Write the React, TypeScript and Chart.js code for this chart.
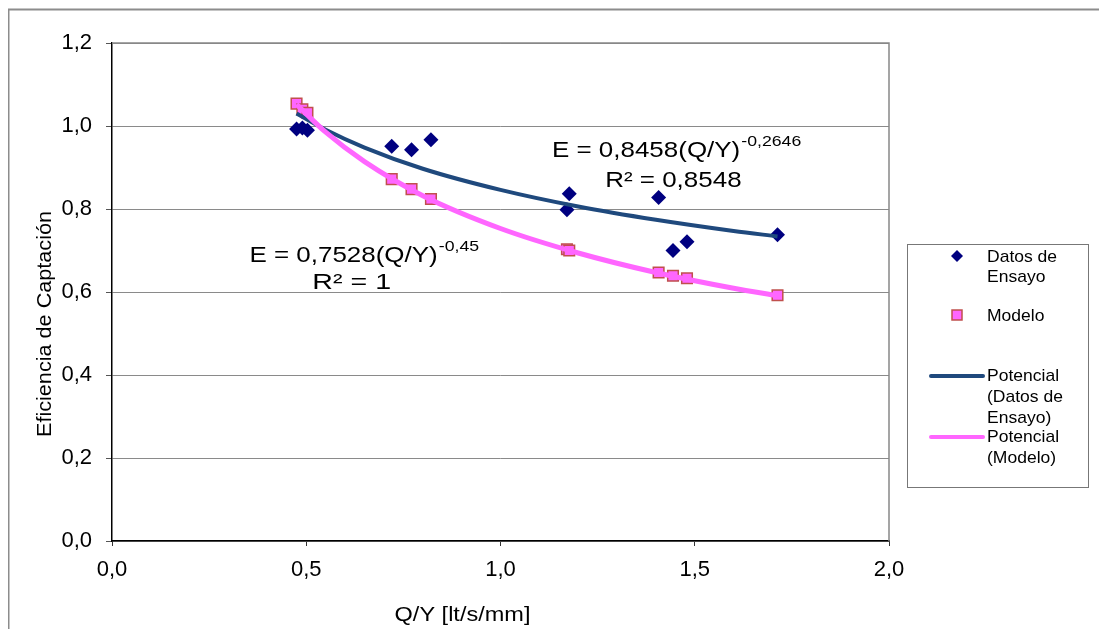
import React, { useEffect, useRef } from 'react';
import { Chart, registerables } from 'chart.js';

Chart.register(...registerables);

// ---- Data ----
const qyValues = [0.475, 0.49, 0.503, 0.72, 0.771, 0.821, 1.171, 1.177, 1.407, 1.444, 1.48, 1.713];
const ensayoValues = [0.993, 0.995, 0.99, 0.951, 0.943, 0.967, 0.798, 0.837, 0.828, 0.7, 0.721, 0.738];
const modeloValues = [1.054, 1.04, 1.032, 0.872, 0.848, 0.824, 0.703, 0.7, 0.647, 0.639, 0.633, 0.592];

const trendX = [0.475, 0.55, 0.65, 0.8, 1.0, 1.2, 1.4, 1.6, 1.713];
const trendEnsayo = [1.03, 0.991, 0.948, 0.897, 0.846, 0.806, 0.774, 0.747, 0.734];
const trendModelo = [1.052, 0.985, 0.914, 0.832, 0.753, 0.694, 0.647, 0.609, 0.591];

const xTicks = { min: 0, max: 2, step: 0.5 };
const yTicks = { min: 0, max: 1.2, step: 0.2 };

const xTitle = 'Q/Y [lt/s/mm]';
const yTitle = 'Eficiencia de Captación';

const eqEnsayo = { main: 'E = 0,8458(Q/Y)', sup: '-0,2646', r2: 'R² = 0,8548', x: 1.452, y: 0.926, r2x: 1.445, r2y: 0.853 };
const eqModelo = { main: 'E = 0,7528(Q/Y)', sup: '-0,45', r2: 'R² = 1', x: 0.648, y: 0.672, r2x: 0.617, r2y: 0.607 };

const legendLabels = {
  ensayo: ['Datos de', 'Ensayo'],
  modelo: ['Modelo'],
  potEnsayo: ['Potencial', '(Datos de', 'Ensayo)'],
  potModelo: ['Potencial', '(Modelo)'],
};

const FONT = '"Liberation Sans", Arial, sans-serif';
const BLUE_DIAMOND = '#000080';
const PINK_FILL = '#FF66FF';
const PINK_BORDER = '#C0504D';
const BLUE_LINE = '#1F497D';
const PINK_LINE = '#FF66FF';

const fmt = (v: number) => Number(v).toFixed(1).replace('.', ',');

const pts = (xs: number[], ys: number[]) => xs.map((x, i) => ({ x, y: ys[i] }));

function txt(ctx: CanvasRenderingContext2D, s: string, x: number, y: number, size: number, align: CanvasTextAlign = 'left', sx = 1, baseline: CanvasTextBaseline = 'alphabetic') {
  ctx.save();
  ctx.font = `${size}px ${FONT}`;
  ctx.fillStyle = '#000';
  ctx.textBaseline = baseline;
  ctx.textAlign = align;
  ctx.translate(x, y);
  ctx.scale(sx, 1);
  ctx.fillText(s, 0, 0);
  ctx.restore();
}

function drawEq(ctx: CanvasRenderingContext2D, cx: number, by: number, main: string, sup: string, sx: number) {
  ctx.save();
  ctx.font = `22px ${FONT}`;
  const w1 = ctx.measureText(main).width * sx;
  ctx.font = `15px ${FONT}`;
  const w2 = ctx.measureText(sup).width * sx;
  ctx.restore();
  const x0 = cx - (w1 + w2) / 2;
  txt(ctx, main, x0, by, 22, 'left', sx);
  txt(ctx, sup, x0 + w1 + 1, by - 11, 15, 'left', sx);
}

const decorPlugin = {
  id: 'decor',
  afterDatasetsDraw(chart: any) {
    const ctx: CanvasRenderingContext2D = chart.ctx;
    const { left, right, top, bottom } = chart.chartArea;
    const xs = chart.scales.x;
    const ys = chart.scales.y;
    ctx.save();
    // outer frame (top and left visible)
    ctx.strokeStyle = '#8c8c8c';
    ctx.lineWidth = 2;
    ctx.beginPath();
    ctx.moveTo(0.5, chart.height);
    ctx.lineTo(0.5, 1.5);
    ctx.lineTo(chart.width, 1.5);
    ctx.stroke();
    // plot area top and right borders
    ctx.strokeStyle = '#888';
    ctx.lineWidth = 1.5;
    ctx.beginPath();
    ctx.moveTo(left, top);
    ctx.lineTo(right, top);
    ctx.lineTo(right, bottom);
    ctx.stroke();
    ctx.restore();

    // equations
    drawEq(ctx, xs.getPixelForValue(eqEnsayo.x), ys.getPixelForValue(eqEnsayo.y), eqEnsayo.main, eqEnsayo.sup, 1.18);
    txt(ctx, eqEnsayo.r2, xs.getPixelForValue(eqEnsayo.r2x), ys.getPixelForValue(eqEnsayo.r2y), 22, 'center', 1.18);
    drawEq(ctx, xs.getPixelForValue(eqModelo.x), ys.getPixelForValue(eqModelo.y), eqModelo.main, eqModelo.sup, 1.18);
    txt(ctx, eqModelo.r2, xs.getPixelForValue(eqModelo.r2x), ys.getPixelForValue(eqModelo.r2y), 22, 'center', 1.3);

    // axis titles
    txt(ctx, xTitle, (left + right) / 2 - 38, 613, 21, 'center', 1.12);
    ctx.save();
    ctx.translate(37, 316);
    ctx.rotate(-Math.PI / 2);
    txt(ctx, yTitle, 0, 0, 21, 'center', 1.03, 'middle');
    ctx.restore();

    // legend
    const lx = 899, ly = 236, lw = 181, lh = 243;
    ctx.save();
    ctx.strokeStyle = '#777';
    ctx.lineWidth = 1;
    ctx.fillStyle = '#fff';
    ctx.fillRect(lx, ly, lw, lh);
    ctx.strokeRect(lx + 0.5, ly + 0.5, lw, lh);
    ctx.restore();
    const tx = 979;
    ctx.save();
    ctx.fillStyle = BLUE_DIAMOND;
    ctx.beginPath();
    ctx.moveTo(949 - 6, 248);
    ctx.lineTo(949, 248 - 6);
    ctx.lineTo(949 + 6, 248);
    ctx.lineTo(949, 248 + 6);
    ctx.closePath();
    ctx.fill();
    ctx.fillStyle = PINK_FILL;
    ctx.strokeStyle = PINK_BORDER;
    ctx.lineWidth = 1.5;
    ctx.fillRect(944, 302, 10, 10);
    ctx.strokeRect(944, 302, 10, 10);
    ctx.lineCap = 'round';
    ctx.lineWidth = 4;
    ctx.strokeStyle = BLUE_LINE;
    ctx.beginPath();
    ctx.moveTo(923, 368);
    ctx.lineTo(975, 368);
    ctx.stroke();
    ctx.strokeStyle = PINK_LINE;
    ctx.beginPath();
    ctx.moveTo(923, 429);
    ctx.lineTo(975, 429);
    ctx.stroke();
    ctx.restore();
    legendLabels.ensayo.forEach((s, i) => txt(ctx, s, tx, 249 + i * 20, 17, 'left', 1.03, 'middle'));
    legendLabels.modelo.forEach((s, i) => txt(ctx, s, tx, 308 + i * 20, 17, 'left', 1.03, 'middle'));
    legendLabels.potEnsayo.forEach((s, i) => txt(ctx, s, tx, 368 + i * 21, 17, 'left', 1.03, 'middle'));
    legendLabels.potModelo.forEach((s, i) => txt(ctx, s, tx, 429 + i * 21, 17, 'left', 1.03, 'middle'));
  },
};

export default function App() {
  const ref = useRef<HTMLCanvasElement>(null);
  useEffect(() => {
    document.body.style.margin = '0';
    document.body.style.overflow = 'hidden';
    if (!ref.current) return;
    const chart = new Chart(ref.current, {
      type: 'scatter',
      data: {
        datasets: [
          {
            label: 'Potencial (Modelo)',
            data: pts(trendX, trendModelo),
            showLine: true,
            borderColor: PINK_LINE,
            borderWidth: 5,
            pointRadius: 0,
            cubicInterpolationMode: 'monotone',
            order: 0,
          } as any,
          {
            label: 'Potencial (Datos de Ensayo)',
            data: pts(trendX, trendEnsayo),
            showLine: true,
            borderColor: BLUE_LINE,
            borderWidth: 4,
            pointRadius: 0,
            cubicInterpolationMode: 'monotone',
            order: 1,
          } as any,
          {
            label: 'Modelo',
            data: pts(qyValues, modeloValues),
            pointStyle: 'rect',
            pointRadius: 7.5,
            backgroundColor: PINK_FILL,
            borderColor: PINK_BORDER,
            borderWidth: 1.5,
            order: 2,
          },
          {
            label: 'Datos de Ensayo',
            data: pts(qyValues, ensayoValues),
            pointStyle: 'rectRot',
            pointRadius: 7.5,
            backgroundColor: BLUE_DIAMOND,
            borderColor: BLUE_DIAMOND,
            borderWidth: 0,
            order: 3,
          },
        ],
      },
      options: {
        animation: false,
        responsive: false,
        layout: { padding: { top: 35, right: 210, left: 0, bottom: 0 } },
        plugins: { legend: { display: false }, tooltip: { enabled: false } },
        scales: {
          x: {
            type: 'linear',
            min: xTicks.min,
            max: xTicks.max,
            ticks: { stepSize: xTicks.step, callback: (v: any) => fmt(v), font: { family: FONT, size: 22 }, color: '#000', padding: 11, maxRotation: 0 },
            grid: { drawOnChartArea: false, drawTicks: true, tickLength: 5, color: '#333' },
            border: { color: '#000', width: 1.5 },
            afterFit: (s: any) => { s.height = 88; },
          },
          y: {
            type: 'linear',
            min: yTicks.min,
            max: yTicks.max,
            ticks: { stepSize: yTicks.step, callback: (v: any) => fmt(v), font: { family: FONT, size: 22 }, color: '#000', padding: 14 },
            grid: { color: '#8a8a8a', lineWidth: 1, tickLength: 6, tickColor: '#555' },
            border: { color: '#000', width: 1.5 },
            afterFit: (s: any) => { s.width = 104; },
          },
        },
      },
      plugins: [decorPlugin],
    });
    return () => chart.destroy();
  }, []);
  return (
    <div style={{ padding: '8px 0 0 8px', width: 1091, height: 621 }}>
      <canvas ref={ref} width={1091} height={621} style={{ display: 'block', width: 1091, height: 621 }} />
    </div>
  );
}
